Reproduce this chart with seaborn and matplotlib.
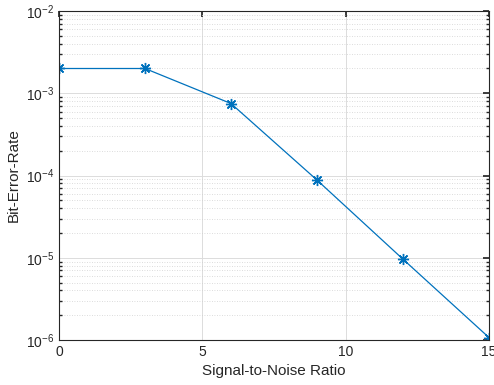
import pandas as pd
import matplotlib
matplotlib.use("Agg")
import matplotlib.pyplot as plt
import seaborn as sns
from matplotlib.ticker import LogLocator, FixedLocator

# values
SNR = [0, 3, 6, 9, 12, 15]
BER = [2.0e-3, 2.0e-3, 7.5e-4, 8.8e-5, 9.6e-6, 1.07e-6]
X_TICKS = [0, 5, 10, 15]

LINE_COLOR = "#0072BD"


def main():
    sns.set_theme(style="white")
    plt.rcParams["font.family"] = ["Liberation Sans", "DejaVu Sans"]
    plt.rcParams["mathtext.fontset"] = "custom"
    plt.rcParams["mathtext.rm"] = "Liberation Sans"
    plt.rcParams["mathtext.it"] = "Liberation Sans"

    df = pd.DataFrame({"SNR": SNR, "BER": BER})

    fig = plt.figure(figsize=(4.94, 3.85), dpi=100)
    ax = fig.add_axes([0.1194, 0.1169, 0.8705, 0.8545])

    # MATLAB-style asterisk: + and x overlaid
    sns.lineplot(data=df, x="SNR", y="BER", ax=ax, color=LINE_COLOR,
                 marker=(8, 2, 0), markersize=8, markeredgecolor=LINE_COLOR,
                 markeredgewidth=1.0, linewidth=0.9)

    ax.set_yscale("log")
    ax.set_xlim(0, 15)
    ax.set_ylim(1e-6, 1e-2)
    ax.xaxis.set_major_locator(FixedLocator(X_TICKS))
    ax.yaxis.set_major_locator(LogLocator(base=10, numticks=10))
    ax.yaxis.set_minor_locator(LogLocator(base=10, subs=range(2, 10), numticks=20))

    ax.grid(True, which="major", color="#dcdcdc", linewidth=0.7, linestyle="-")
    ax.grid(True, which="minor", axis="y", color="#d0d0d0", linewidth=0.6,
            linestyle=(0, (1, 2)))
    ax.set_axisbelow(True)

    for s in ax.spines.values():
        s.set_visible(True)
        s.set_color("#262626")
        s.set_linewidth(0.8)

    ax.tick_params(which="both", direction="in", top=True, right=True,
                   labelsize=10, colors="#262626", length=4)
    ax.tick_params(which="minor", length=2.5, left=True, right=True)

    ax.set_xlabel("Signal-to-Noise Ratio", fontsize=11, color="#262626", labelpad=4)
    ax.set_ylabel("Bit-Error-Rate", fontsize=11, color="#262626", labelpad=4)

    fig.savefig("out.png", dpi=100)


if __name__ == "__main__":
    main()
